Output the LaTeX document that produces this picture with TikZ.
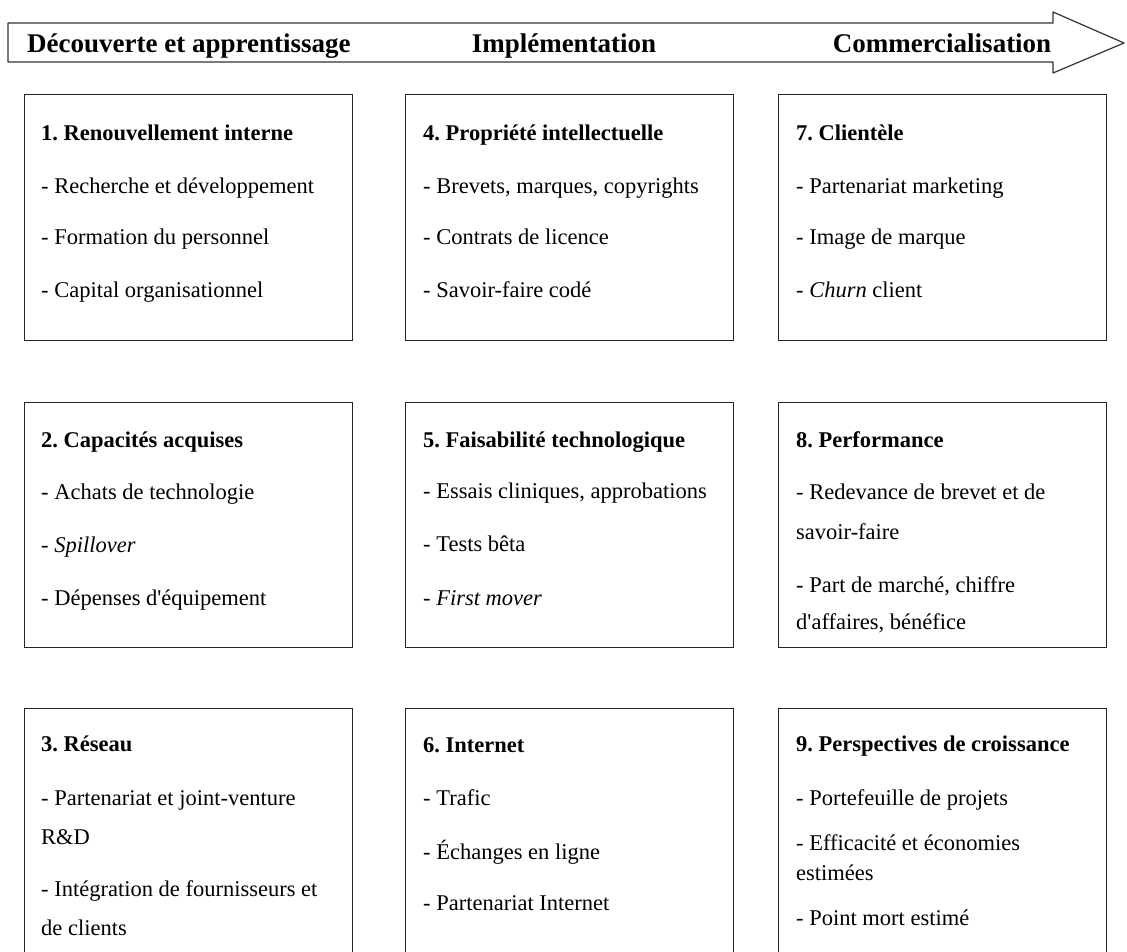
\documentclass[tikz,border=0pt]{standalone}
\usepackage{fontspec}
\setmainfont{Liberation Serif}
\frenchspacing
\newcommand{\ap}{\textquotesingle}
\begin{document}
\begin{tikzpicture}[x=1pt,y=-1pt,
  box/.style={draw=black!85,line width=1.3pt,anchor=north west,inner sep=0pt,minimum width=328pt},
  txt/.style={anchor=base west,inner sep=0pt,font=\fontsize{22.5}{26}\selectfont},
  ttl/.style={txt,font=\fontsize{22.5}{26}\selectfont\bfseries},
  hdr/.style={anchor=base,inner sep=0pt,font=\fontsize{27}{32}\selectfont\bfseries}]
\clip (0,0) rectangle (1127,951);
\fill[white] (0,0) rectangle (1127,951);
% process arrow
\draw[line width=1.2pt,draw=black!80,fill=white,line join=round]
  (8,23) -- (1053,23) -- (1053,12) -- (1124,43) -- (1053,73) -- (1053,62) -- (8,62) -- cycle;
\node[hdr,anchor=base west] (h1) at (27,52) {Découverte et apprentissage};
\node[hdr] (h2) at (564,52) {Implémentation};
\node[hdr] (h3) at (942,52) {Commercialisation};
% boxes
\node[box,minimum height=246pt] (b1) at (24,94) {};
\node[box,minimum height=246pt] (b4) at (405,94) {};
\node[box,minimum height=246pt] (b7) at (778,94) {};
\node[box,minimum height=245pt] (b2) at (24,402) {};
\node[box,minimum height=245pt] (b5) at (405,402) {};
\node[box,minimum height=245pt] (b8) at (778,402) {};
\node[box,minimum height=260pt] (b3) at (24,708) {};
\node[box,minimum height=260pt] (b6) at (405,708) {};
\node[box,minimum height=260pt] (b9) at (778,708) {};
% box 1
\node[ttl] (t1) at (41,140) {1. Renouvellement interne};
\node[txt] (t1a) at (41,193) {- Recherche et développement};
\node[txt] (t1b) at (41,244) {- Formation du personnel};
\node[txt] (t1c) at (41,297) {- Capital organisationnel};
% box 2
\node[ttl] (t2) at (41,447) {2. Capacités acquises};
\node[txt] (t2a) at (41,499) {- Achats de technologie};
\node[txt] (t2b) at (41,552) {- \textit{Spillover}};
\node[txt] (t2c) at (41,605) {- Dépenses d\ap équipement};
% box 3
\node[ttl] (t3) at (41,751) {3. Réseau};
\node[txt] (t3a) at (41,805) {- Partenariat et joint-venture};
\node[txt] (t3b) at (41,844) {R\&D};
\node[txt] (t3c) at (41,896) {- Intégration de fournisseurs et};
\node[txt] (t3d) at (41,935) {de clients};
% box 4
\node[ttl] (t4) at (423,140) {4. Propriété intellectuelle};
\node[txt] (t4a) at (423,193) {- Brevets, marques, copyrights};
\node[txt] (t4b) at (423,244) {- Contrats de licence};
\node[txt] (t4c) at (423,297) {- Savoir-faire codé};
% box 5
\node[ttl] (t5) at (423,447) {5. Faisabilité technologique};
\node[txt] (t5a) at (423,498) {- Essais cliniques, approbations};
\node[txt] (t5b) at (423,551) {- Tests bêta};
\node[txt] (t5c) at (423,605) {- \textit{First mover}};
% box 6
\node[ttl] (t6) at (423,752) {6. Internet};
\node[txt] (t6a) at (423,805) {- Trafic};
\node[txt] (t6b) at (423,859) {- Échanges en ligne};
\node[txt] (t6c) at (423,910) {- Partenariat Internet};
% box 7
\node[ttl] (t7) at (796,140) {7. Clientèle};
\node[txt] (t7a) at (796,193) {- Partenariat marketing};
\node[txt] (t7b) at (796,244) {- Image de marque};
\node[txt] (t7c) at (796,297) {- \textit{Churn} client};
% box 8
\node[ttl] (t8) at (796,447) {8. Performance};
\node[txt] (t8a) at (796,499) {- Redevance de brevet et de};
\node[txt] (t8b) at (796,539) {savoir-faire};
\node[txt] (t8c) at (796,592) {- Part de marché, chiffre};
\node[txt] (t8d) at (796,629) {d\ap affaires, bénéfice};
% box 9
\node[ttl] (t9) at (796,751) {9. Perspectives de croissance};
\node[txt] (t9a) at (796,805) {- Portefeuille de projets};
\node[txt] (t9b) at (796,850) {- Efficacité et économies};
\node[txt] (t9c) at (796,880) {estimées};
\node[txt] (t9d) at (796,925) {- Point mort estimé};
\end{tikzpicture}
\end{document}
